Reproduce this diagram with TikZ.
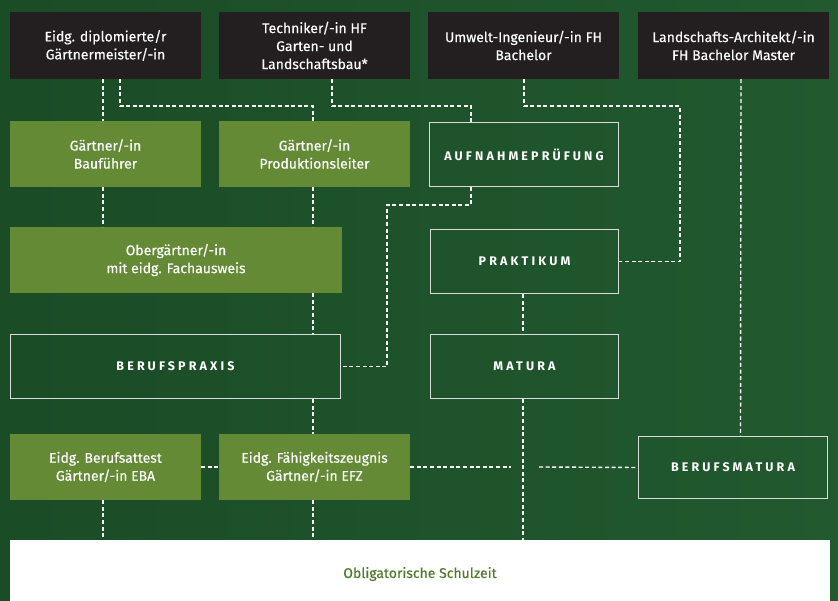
\documentclass[tikz,border=0pt]{standalone}
\usepackage{fontspec}
\setmainfont{Fira Sans}[UprightFeatures={FakeBold=0.35}]
\usetikzlibrary{calc}
\definecolor{bgA}{HTML}{1A4C26}
\definecolor{bgB}{HTML}{22592F}
\definecolor{blk}{HTML}{231F20}
\definecolor{lgr}{HTML}{648A35}
\definecolor{edge}{HTML}{D9DDD9}
\definecolor{btxt}{HTML}{4E7A2C}
\tikzset{
  box/.style={rectangle, inner sep=0pt, text=white, align=center,
    font=\fontsize{14}{18}\selectfont},
  blkbox/.style={box, fill=blk},
  grnbox/.style={box, fill=lgr},
  outbox/.style={box, draw=edge, line width=1.4pt,
    font=\fontsize{12.5}{14}\selectfont\bfseries\addfontfeatures{LetterSpace=25}},
  dl/.style={draw=white, line width=1.4pt, dash pattern=on 4pt off 2.6pt},
}
\begin{document}
\begin{tikzpicture}[x=1pt,y=-1pt]
\useasboundingbox (0,0) rectangle (838,601);
\shade[left color=bgA, right color=bgB] (0,0) rectangle (838,601);
% top row
\node[blkbox, minimum width=191pt, minimum height=67pt] (b1) at (105.5,45.5) {Eidg. diplomierte/r\\Gärtnermeister/-in};
\node[blkbox, minimum width=191pt, minimum height=67pt] (b2) at (314.5,45.5) {Techniker/-in HF\\Garten- und\\Landschaftsbau*};
\node[blkbox, minimum width=191pt, minimum height=67pt] (b3) at (523.5,45.5) {Umwelt-Ingenieur/-in FH\\Bachelor};
\node[blkbox, minimum width=191pt, minimum height=67pt] (b4) at (733.5,45.5) {Landschafts-Architekt/-in\\FH Bachelor Master};
% second row
\node[grnbox, minimum width=191pt, minimum height=66pt] (g1) at (105.5,154) {Gärtner/-in\\Bauführer};
\node[grnbox, minimum width=191pt, minimum height=66pt] (g2) at (314.5,154) {Gärtner/-in\\Produktionsleiter};
\node[outbox, minimum width=189pt, minimum height=64pt] (auf) at (524,154.5) {AUFNAHMEPRÜFUNG};
% third row
\node[grnbox, minimum width=332pt, minimum height=66pt] (ober) at (176,260) {Obergärtner/-in\\mit eidg. Fachausweis};
\node[outbox, minimum width=188pt, minimum height=64pt] (prak) at (524.5,261.5) {PRAKTIKUM};
% fourth row
\node[outbox, minimum width=330pt, minimum height=64pt] (praxis) at (175.5,366.5) {BERUFSPRAXIS};
\node[outbox, minimum width=188pt, minimum height=64pt] (mat) at (524.5,366.5) {MATURA};
% fifth row
\node[grnbox, minimum width=191pt, minimum height=66pt] (eba) at (105.5,467) {Eidg. Berufsattest\\Gärtner/-in EBA};
\node[grnbox, minimum width=191pt, minimum height=66pt] (efz) at (314.5,467) {Eidg. Fähigkeitszeugnis\\Gärtner/-in EFZ};
\node[outbox, minimum width=189pt, minimum height=62pt] (bm) at (733,467.5) {BERUFSMATURA};
% bottom
\node[rectangle, fill=white, inner sep=0pt, minimum width=820pt, minimum height=61pt] (schule) at (420,570.5) {};
\node[text=btxt, font=\fontsize{14}{16}\selectfont] (schultxt) at (420,574) {Obligatorische Schulzeit};
% routing coordinates
\coordinate (r1) at (0,106);
\coordinate (k1) at (680,106);
\coordinate (k2) at (387,205);
\coordinate (gl) at (511,467);
\coordinate (gr) at (539,467);
% connectors
\draw[dl] ([xshift=-2.5pt]b1.south) -- ([xshift=-2.5pt]g1.north);
\draw[dl] ([xshift=14.5pt]b1.south) -- ([xshift=14.5pt]b1.south |- r1) -| ([xshift=-1.5pt]g2.north);
\draw[dl] ([xshift=17.5pt]b2.south) -- ([xshift=17.5pt]b2.south |- r1) -| ([xshift=-53pt]auf.north);
\draw[dl] ([xshift=0.5pt]b3.south) |- (k1) |- (prak.east);
\draw[dl] ([xshift=7.5pt]b4.south) -- ([xshift=7.5pt]bm.north);
\draw[dl] ([xshift=-2.5pt]g1.south) -- ([xshift=-2.5pt]g1.south |- ober.north);
\draw[dl] ([xshift=-1.5pt]g2.south) -- ([xshift=-1.5pt]g2.south |- ober.north);
\draw[dl] ([xshift=-1.5pt]g2.south |- ober.south) -- ([xshift=-1.5pt]g2.south |- praxis.north);
\draw[dl] ([xshift=-53pt]auf.south) |- (k2) |- (praxis.east);
\draw[dl] ([xshift=-1.5pt]prak.south) -- ([xshift=-1.5pt]mat.north);
\draw[dl] ([xshift=-1.5pt]efz.north |- praxis.south) -- ([xshift=-1.5pt]efz.north);
\draw[dl] ([xshift=-1.5pt]mat.south) -- ([xshift=-1.5pt]mat.south |- schule.north);
\draw[dl] (eba.east) -- (efz.west);
\draw[dl] (efz.east) -- (gl);
\draw[dl] (gr) -- (bm.west);
\draw[dl] ([xshift=-2.5pt]eba.south) -- ([xshift=-2.5pt]eba.south |- schule.north);
\draw[dl] ([xshift=-1.5pt]efz.south) -- ([xshift=-1.5pt]efz.south |- schule.north);
\end{tikzpicture}
\end{document}
